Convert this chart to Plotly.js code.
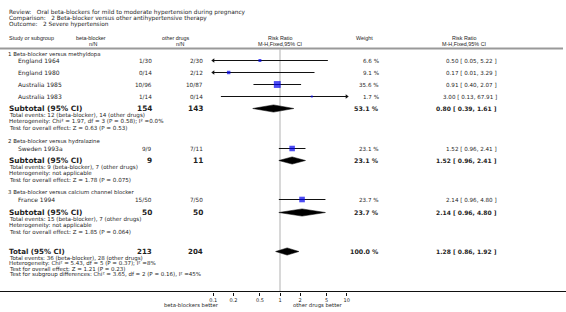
<!DOCTYPE html>
<html><head><meta charset="utf-8">
<script src="https://cdn.plot.ly/plotly-3.0.1.min.js"></script>
<style>html,body{margin:0;padding:0;background:#fff}#chart{width:566px;height:312px}</style>
</head><body><div id="chart"></div>
<script>
// ---------------- data ----------------
const titleLines = [
  'Review:   Oral beta-blockers for mild to moderate hypertension during pregnancy',
  'Comparison:   2 Beta-blocker versus other antihypertensive therapy',
  'Outcome:   2 Severe hypertension'
];
const groupNames = ['1 Beta-blocker versus methyldopa','2 Beta-blocker versus hydralazine','3 Beta-blocker versus calcium channel blocker'];
const studies  = ['England 1964','England 1980','Australia 1985','Australia 1983','Sweden 1993a','France 1994'];
const bbEvents = [1,0,10,1,9,15];
const bbTotal  = [30,14,96,14,9,50];
const odEvents = [2,2,10,0,7,7];
const odTotal  = [30,12,87,14,11,50];
const weights  = [6.6,9.1,35.6,1.7,23.1,23.7];
const rr       = [0.50,0.17,0.91,3.00,1.52,2.14];
const rrLo     = [0.05,0.01,0.40,0.13,0.96,0.96];
const rrHi     = [5.22,3.29,2.07,67.91,2.41,4.80];

const subBB  = [154,9,50];
const subOD  = [143,11,50];
const subW   = [53.1,23.1,23.7];
const subRR  = [0.80,1.52,2.14];
const subLo  = [0.39,0.96,0.96];
const subHi  = [1.61,2.41,4.80];
const subEvBB = [12,9,15];
const subEvOD = [14,7,7];
const subHet = ['Heterogeneity: Chi\u00b2 = 1.97, df = 3 (P = 0.58); I\u00b2 =0.0%','Heterogeneity: not applicable','Heterogeneity: not applicable'];
const subTest = ['Test for overall effect: Z = 0.63 (P = 0.53)','Test for overall effect: Z = 1.78 (P = 0.075)','Test for overall effect: Z = 1.85 (P = 0.064)'];

const totBB = 213, totOD = 204, totW = 100.0, totRR = 1.28, totLo = 0.86, totHi = 1.92;
const totEvBB = 36, totEvOD = 28;
const totHet = 'Heterogeneity: Chi\u00b2 = 5.43, df = 5 (P = 0.37); I\u00b2 =8%';
const totTest = 'Test for overall effect: Z = 1.21 (P = 0.23)';
const totSub = 'Test for subgroup differences: Chi\u00b2 = 3.65, df = 2 (P = 0.16), I\u00b2 =45%';

const tickVals = [0.1,0.2,0.5,1,2,5,10];
const tickLabels = ['0.1','0.2','0.5','1','2','5','10'];
const leftLabel = 'beta-blockers better', rightLabel = 'other drugs better';

// ---------------- layout (pixel rows) ----------------
const W = 566, H = 312;
const FD = 'DejaVu Sans, Verdana, sans-serif';
const FL = 'Liberation Sans, Arial, Helvetica, sans-serif';
const COLOR = '#1e1e1e';
const titleY = [12.5, 18.4, 24.3];
const studyY = [60.5,72.5,84.5,96.5,148.5,199.5];
const groupY = [54,141.5,191.5];
const subY = [108.5,160.5,212.5];
const totalY = 251.5;
const axisY = 291.5, headerLineY = 48.5;
const plotL = 213.3, plotR = 346.7;
const xs = {name:8, study:17, bb:153, od:204, weight:380, rr:498, rrHead:464, weightHead:364, plotC:280};
const XMIN = 0.1, XMAX = 10;

const ann = [];
function txt(x, y, text, size, anchor, family, bold){
  ann.push({xref:'paper', yref:'y', x:x/W, y:y, text: bold ? '<b>'+text+'</b>' : text,
    showarrow:false, xanchor:anchor||'left', yanchor:'middle', borderpad:0,
    font:{family:family, size:size, color:COLOR}});
}
const f2 = v => v.toFixed(2);
const ci = (r,l,h) => f2(r)+' [ '+f2(l)+', '+f2(h)+' ]';

titleLines.forEach((t,i)=>txt(8, titleY[i], t, 5.8, 'left', FD));
txt(xs.name, 38, 'Study or subgroup', 5.5, 'left', FL);
txt(91, 38, 'beta-blocker', 5.4, 'center', FL); txt(93, 44, 'n/N', 5.4, 'center', FL);
txt(176, 38, 'other drugs', 5.4, 'center', FL); txt(180, 44, 'n/N', 5.4, 'center', FL);
txt(xs.plotC, 38, 'Risk Ratio', 5.4, 'center', FL); txt(xs.plotC, 44, 'M-H,Fixed,95% CI', 5.4, 'center', FL);
txt(xs.weightHead, 38, 'Weight', 5.4, 'center', FL);
txt(xs.rrHead, 38, 'Risk Ratio', 5.4, 'center', FL); txt(xs.rrHead, 44, 'M-H,Fixed,95% CI', 5.4, 'center', FL);

groupNames.forEach((g,i)=>txt(7, groupY[i], g, 5.4, 'left', FD));
studies.forEach((s,i)=>{
  const y = studyY[i];
  txt(xs.study, y, s, 6.0, 'left', FD);
  txt(xs.bb, y, bbEvents[i]+'/'+bbTotal[i], 5.7, 'right', FD);
  txt(xs.od, y, odEvents[i]+'/'+odTotal[i], 5.7, 'right', FD);
  txt(xs.weight, y, weights[i].toFixed(1)+' %', 5.6, 'right', FD);
  txt(xs.rr, y, ci(rr[i],rrLo[i],rrHi[i]), 5.6, 'right', FD);
});
function summaryRow(y, label, nb, no, w, r, l, h, big){
  txt(xs.name, y, label, big, 'left', FD, true);
  txt(xs.bb, y, String(nb), big, 'right', FD, true);
  txt(xs.od, y, String(no), big, 'right', FD, true);
  txt(xs.weight, y, w.toFixed(1)+' %', 6.3, 'right', FD, true);
  txt(xs.rr, y, ci(r,l,h), 6.0, 'right', FD, true);
}
subY.forEach((y,i)=>{
  summaryRow(y, 'Subtotal (95% CI)', subBB[i], subOD[i], subW[i], subRR[i], subLo[i], subHi[i], 7.4);
  txt(xs.name, y+7.3, 'Total events: '+subEvBB[i]+' (beta-blocker), '+subEvOD[i]+' (other drugs)', 5.6, 'left', FD);
  txt(xs.name, y+13.3, subHet[i], 5.6, 'left', FD);
  txt(xs.name, y+19.3, subTest[i], 5.6, 'left', FD);
});
summaryRow(totalY, 'Total (95% CI)', totBB, totOD, totW, totRR, totLo, totHi, 7.1);
txt(xs.name, totalY+6.8, 'Total events: '+totEvBB+' (beta-blocker), '+totEvOD+' (other drugs)', 5.5, 'left', FD);
txt(xs.name, totalY+12.2, totHet, 5.5, 'left', FD);
txt(xs.name, totalY+17.6, totTest, 5.5, 'left', FD);
txt(xs.name, totalY+23.0, totSub, 5.5, 'left', FD);
txt(191, 305, leftLabel, 5.3, 'center', FD);
txt(318, 305, rightLabel, 5.3, 'center', FD);

// ---------------- traces ----------------
const traces = [];
studies.forEach((s,i)=>{
  const a = Math.max(rrLo[i], XMIN), b = Math.min(rrHi[i], XMAX);
  traces.push({type:'scatter', mode:'lines', x:[a,b], y:[studyY[i],studyY[i]], line:{color:'#111', width:1}, hoverinfo:'skip', cliponaxis:false});
  if (rrLo[i] < XMIN) traces.push({type:'scatter', mode:'markers', x:[XMIN], y:[studyY[i]], marker:{symbol:'triangle-left', size:4, color:'#111'}, cliponaxis:false, hoverinfo:'skip'});
  if (rrHi[i] > XMAX) traces.push({type:'scatter', mode:'markers', x:[XMAX], y:[studyY[i]], marker:{symbol:'triangle-right', size:4, color:'#111'}, cliponaxis:false, hoverinfo:'skip'});
});
traces.push({type:'scatter', mode:'markers', x:rr, y:studyY,
  marker:{symbol:'square', color:'#0000ee', size:weights.map(w=>Math.max(2, 1.15*Math.sqrt(w))), line:{width:0}},
  cliponaxis:false, hoverinfo:'skip'});
function diamond(r,l,h,y){
  const d = 3.6;
  traces.push({type:'scatter', mode:'lines', x:[l,r,h,r,l], y:[y,y-d,y,y+d,y], fill:'toself',
    fillcolor:'#000', line:{color:'#000', width:0.5}, hoverinfo:'skip', cliponaxis:false});
}
subY.forEach((y,i)=>diamond(subRR[i],subLo[i],subHi[i],y));
diamond(totRR,totLo,totHi,totalY);

const layout = {
  width:W, height:H, margin:{l:0,r:0,t:0,b:0}, paper_bgcolor:'#fff', plot_bgcolor:'rgba(0,0,0,0)',
  showlegend:false,
  xaxis:{type:'log', range:[Math.log10(XMIN), Math.log10(XMAX)], domain:[plotL/W, plotR/W],
    anchor:'free', position:(H-axisY)/H, showgrid:false, zeroline:false, showline:false,
    tickmode:'array', tickvals:tickVals, ticktext:tickLabels, ticks:'outside', ticklen:3, tickwidth:1, tickcolor:'#111',
    tickfont:{family:FD, size:5.0, color:COLOR}, fixedrange:true},
  yaxis:{range:[H,0], domain:[0,1], visible:false, fixedrange:true},
  shapes:[
    {type:'line', xref:'paper', yref:'y', x0:0, x1:563/W, y0:headerLineY, y1:headerLineY, line:{color:'#999', width:2}},
    {type:'line', xref:'x', yref:'y', x0:1, x1:1, y0:headerLineY+1, y1:axisY, line:{color:'#d8d8d8', width:2}, layer:'below'},
    {type:'line', xref:'paper', yref:'y', x0:0, x1:1, y0:axisY, y1:axisY, line:{color:'#111', width:1}}
  ],
  annotations: ann
};
Plotly.newPlot('chart', traces, layout, {staticPlot:true, displayModeBar:false});
</script>
</body></html>
